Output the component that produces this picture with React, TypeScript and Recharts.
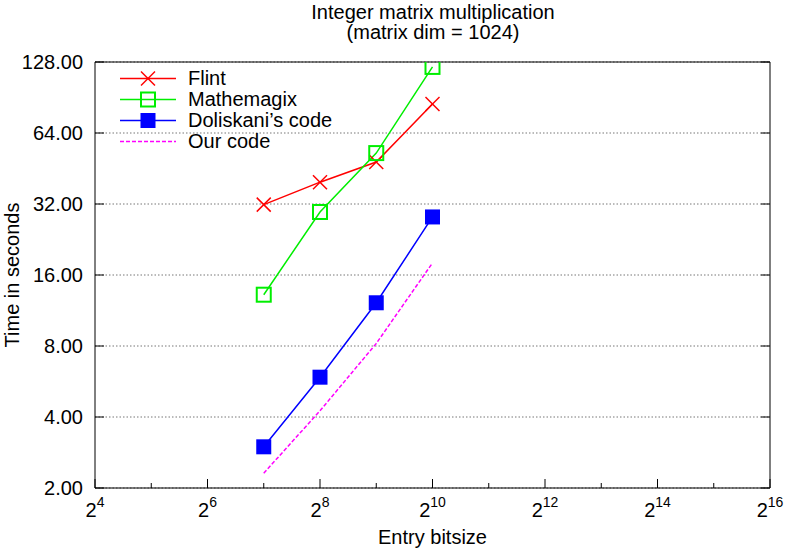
import React from "react";
import { CartesianGrid, Legend, Line, LineChart, XAxis, YAxis } from "recharts";

const FONT = '"Liberation Sans", Arial, Helvetica, sans-serif';

const X_TICKS = [16, 32, 64, 128, 256, 512, 1024, 2048, 4096, 8192, 16384, 32768, 65536];
const Y_TICKS = [2, 4, 8, 16, 32, 64, 128];

const BITSIZES = [128, 256, 512, 1024];
const FLINT = [31.8, 39.6, 48.2, 85];
const MATHEMAGIX = [13.2, 29.6, 52.6, 122];
const DOLISKANI = [2.99, 5.9, 12.2, 28.2];
const OUR_CODE = [2.31, 4.25, 8.2, 18.0];

const toPoints = (vals: number[]) => BITSIZES.map((x, i) => ({ x, y: vals[i] }));

type Marker = "cross" | "box" | "filled" | "none";

const SERIES: { name: string; color: string; marker: Marker; dash?: string; values: number[] }[] = [
  { name: "Flint", color: "#ff0000", marker: "cross", values: FLINT },
  { name: "Mathemagix", color: "#00ee00", marker: "box", values: MATHEMAGIX },
  { name: "Doliskani\u2019s code", color: "#0000ff", marker: "filled", values: DOLISKANI },
  { name: "Our code", color: "#ff00ff", marker: "none", dash: "4 2", values: OUR_CODE },
];

function MarkerShape({ kind, cx, cy, color }: { kind: Marker; cx: number; cy: number; color: string }) {
  if (kind === "cross") {
    const s = 7;
    return (
      <g stroke={color} strokeWidth={1.5}>
        <line x1={cx - s} y1={cy - s} x2={cx + s} y2={cy + s} />
        <line x1={cx - s} y1={cy + s} x2={cx + s} y2={cy - s} />
      </g>
    );
  }
  if (kind === "box") {
    return <rect x={cx - 7} y={cy - 7} width={14} height={14} fill="none" stroke={color} strokeWidth={2} />;
  }
  if (kind === "filled") {
    return <rect x={cx - 7.5} y={cy - 7.5} width={15} height={15} fill={color} />;
  }
  return null;
}

const BottomTick = (props: any) => {
  const { x, y, payload } = props;
  const exp = Math.round(Math.log2(payload.value));
  const major = exp % 2 === 0;
  return (
    <g>
      <line x1={x} x2={x} y1={y} y2={y - (major ? 9 : 5)} stroke="#000" />
      {major && (
        <text x={x} y={y + 29} textAnchor="middle" fontSize={20} fontFamily={FONT} fill="#000">
          2<tspan dy={-10} fontSize={14}>{exp}</tspan>
        </text>
      )}
    </g>
  );
};

const TopTick = (props: any) => {
  const { x, y, payload } = props;
  const exp = Math.round(Math.log2(payload.value));
  const major = exp % 2 === 0;
  return <line x1={x} x2={x} y1={y} y2={y + (major ? 9 : 5)} stroke="#000" />;
};

const LeftTick = (props: any) => {
  const { x, y, payload } = props;
  return (
    <g>
      <line x1={x} x2={x + 9} y1={y} y2={y} stroke="#000" />
      <text x={x - 12} y={y} dy="0.35em" textAnchor="end" fontSize={20} fontFamily={FONT} fill="#000">
        {payload.value.toFixed(2)}
      </text>
    </g>
  );
};

const RightTick = (props: any) => {
  const { x, y } = props;
  return <line x1={x} x2={x - 9} y1={y} y2={y} stroke="#000" />;
};

function LegendBox() {
  return (
    <div style={{ fontFamily: FONT, fontSize: 20, color: "#000" }}>
      {SERIES.map((s) => (
        <div key={s.name} style={{ display: "flex", alignItems: "center", height: 21 }}>
          <svg width={70} height={21} style={{ display: "block" }}>
            <line x1={2} x2={58} y1={10.5} y2={10.5} stroke={s.color} strokeWidth={1.5} strokeDasharray={s.dash} />
            <MarkerShape kind={s.marker} cx={30} cy={10.5} color={s.color} />
          </svg>
          <span style={{ lineHeight: "21px", whiteSpace: "nowrap" }}>{s.name}</span>
        </div>
      ))}
    </div>
  );
}

export default function App() {
  const titleStyle: React.CSSProperties = {
    position: "absolute",
    left: 0,
    width: 866,
    textAlign: "center",
    fontSize: 20,
    lineHeight: "20px",
    color: "#000",
    whiteSpace: "nowrap",
  };
  return (
    <div style={{ position: "absolute", left: 0, top: 0, width: 786, height: 551, background: "#fff", fontFamily: FONT }}>
      <div style={{ ...titleStyle, top: 2 }}>Integer matrix multiplication</div>
      <div style={{ ...titleStyle, top: 22 }}>(matrix dim = 1024)</div>
      <LineChart width={786} height={551} margin={{ top: 0, right: 0, bottom: 0, left: 0 }}>
        <CartesianGrid xAxisId="b" yAxisId="l" vertical={false} stroke="#777" strokeDasharray="1.5 2" />
        <XAxis
          xAxisId="b"
          dataKey="x"
          type="number"
          scale="log"
          domain={[16, 65536]}
          allowDataOverflow
          ticks={X_TICKS}
          interval={0}
          height={63}
          tickSize={0}
          tickMargin={0}
          axisLine={{ stroke: "#000" }}
          tick={<BottomTick />}
          label={{ value: "Entry bitsize", position: "insideBottom", offset: 7, fill: "#000", fontSize: 20, fontFamily: FONT }}
        />
        <XAxis
          xAxisId="t"
          orientation="top"
          type="number"
          scale="log"
          domain={[16, 65536]}
          allowDataOverflow
          ticks={X_TICKS}
          interval={0}
          height={62}
          tickSize={0}
          tickMargin={0}
          axisLine={{ stroke: "#000" }}
          tick={<TopTick />}
        />
        <YAxis
          yAxisId="l"
          type="number"
          scale="log"
          domain={[2, 128]}
          allowDataOverflow
          ticks={Y_TICKS}
          interval={0}
          width={95}
          tickSize={0}
          tickMargin={0}
          axisLine={{ stroke: "#000" }}
          tick={<LeftTick />}
          label={{
            value: "Time in seconds",
            angle: -90,
            position: "insideLeft",
            offset: 12,
            fill: "#000",
            fontSize: 20,
            fontFamily: FONT,
            style: { textAnchor: "middle" },
          }}
        />
        <YAxis
          yAxisId="r"
          orientation="right"
          type="number"
          scale="log"
          domain={[2, 128]}
          allowDataOverflow
          ticks={Y_TICKS}
          interval={0}
          width={16}
          tickSize={0}
          tickMargin={0}
          axisLine={{ stroke: "#000" }}
          tick={<RightTick />}
        />
        <Legend
          layout="vertical"
          align="center"
          verticalAlign="middle"
          wrapperStyle={{ top: 68, left: 118, width: 280 }}
          content={() => <LegendBox />}
        />
        {SERIES.map((s) => (
          <Line
            key={s.name}
            name={s.name}
            xAxisId="b"
            yAxisId="l"
            data={toPoints(s.values)}
            dataKey="y"
            type="linear"
            stroke={s.color}
            strokeWidth={1.5}
            strokeDasharray={s.dash}
            dot={(p: any) => <MarkerShape key={`${s.name}-${p.index}`} kind={s.marker} cx={p.cx} cy={p.cy} color={s.color} />}
            activeDot={false}
            isAnimationActive={false}
          />
        ))}
      </LineChart>
    </div>
  );
}
